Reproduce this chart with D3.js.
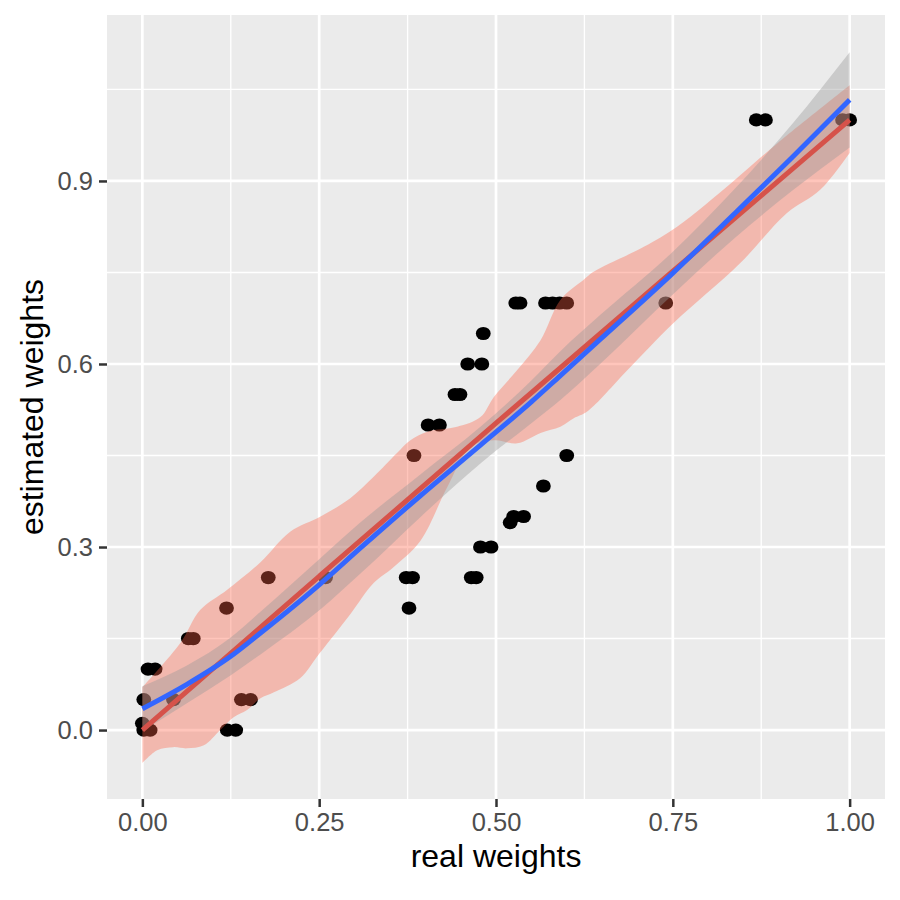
<!DOCTYPE html>
<html>
<head>
<meta charset="utf-8">
<script src="https://cdn.jsdelivr.net/npm/d3@7"></script>
<style>
  body { margin: 0; background: #fff; }
  text { font-family: "Liberation Sans", Arial, sans-serif; }
</style>
</head>
<body>
<svg width="900" height="900"></svg>
<script>
// observed points (real vs estimated weight)
const pointX = [0.002, 0.011, 0.0, 0.002, 0.044, 0.008, 0.018, 0.065, 0.072, 0.119, 0.12, 0.132,
  0.14, 0.153, 0.178, 0.259, 0.373, 0.382, 0.377, 0.384, 0.404, 0.42, 0.442, 0.449,
  0.46, 0.48, 0.482, 0.465, 0.472, 0.478, 0.493, 0.52, 0.525, 0.539, 0.567, 0.60,
  0.528, 0.534, 0.57, 0.58, 0.59, 0.60, 0.74, 0.868, 0.881, 0.99, 1.0];
const pointY = [0.0, 0.0, 0.011, 0.05, 0.05, 0.10, 0.10, 0.15, 0.15, 0.20, 0.0, 0.0,
  0.05, 0.05, 0.25, 0.25, 0.25, 0.25, 0.20, 0.45, 0.50, 0.50, 0.55, 0.55,
  0.60, 0.60, 0.65, 0.25, 0.25, 0.30, 0.30, 0.34, 0.35, 0.35, 0.40, 0.45,
  0.70, 0.70, 0.70, 0.70, 0.70, 0.70, 0.70, 1.0, 1.0, 1.0, 1.0];

// red smoother and its wavy band
const redX = [0, 0.25, 0.5, 0.75, 1];
const redY = [0, 0.252, 0.503, 0.752, 1.0];
const redUpperX = [0, 0.054, 0.082, 0.12, 0.167, 0.209, 0.252, 0.294, 0.327, 0.36, 0.379, 0.403,
  0.445, 0.478, 0.497, 0.53, 0.563, 0.591, 0.624, 0.638, 0.709, 0.756, 0.836, 0.898, 1.0];
const redUpperY = [0.07, 0.143, 0.197, 0.23, 0.275, 0.325, 0.35, 0.38, 0.415, 0.454, 0.475, 0.489,
  0.497, 0.513, 0.546, 0.59, 0.639, 0.705, 0.738, 0.751, 0.792, 0.825, 0.9, 0.962, 1.057];
const redLowerX = [0, 0.021, 0.044, 0.063, 0.087, 0.11, 0.129, 0.148, 0.167, 0.186, 0.223, 0.25,
  0.294, 0.327, 0.355, 0.393, 0.431, 0.464, 0.497, 0.53, 0.563, 0.591, 0.61, 0.629, 0.686,
  0.751, 0.845, 0.911, 0.958, 1.0];
const redLowerY = [-0.054, -0.033, -0.028, -0.03, -0.025, 0.0, 0.021, 0.033, 0.052, 0.062, 0.085, 0.125,
  0.19, 0.241, 0.267, 0.31, 0.398, 0.464, 0.475, 0.47, 0.487, 0.497, 0.511, 0.522, 0.59,
  0.667, 0.765, 0.847, 0.885, 0.946];

// blue smoother with grey band
const blueX = [0, 0.063, 0.124, 0.167, 0.252, 0.308, 0.393, 0.478, 0.55, 0.591, 0.648, 0.75, 0.836, 0.92, 1.0];
const blueY = [0.035, 0.075, 0.12, 0.159, 0.24, 0.298, 0.384, 0.467, 0.538, 0.581, 0.641, 0.749, 0.845, 0.94, 1.033];
const blueLo = [-0.002, 0.044, 0.089, 0.124, 0.198, 0.256, 0.349, 0.437, 0.503, 0.541, 0.601, 0.714, 0.805, 0.885, 0.955];
const blueHi = [0.072, 0.106, 0.151, 0.194, 0.282, 0.34, 0.419, 0.497, 0.573, 0.621, 0.681, 0.784, 0.885, 0.995, 1.111];

const xTicks = [0, 0.25, 0.5, 0.75, 1];
const xMinor = [0.125, 0.375, 0.625, 0.875];
const yTicks = [0, 0.3, 0.6, 0.9];
const yMinor = [0.15, 0.45, 0.75, 1.05];

const svg = d3.select('svg');

const panel = { left: 107, right: 885, top: 15, bottom: 799 };

const x = d3.scaleLinear()
  .domain([-0.05, 1.05])
  .range([panel.left, panel.right]);

const y = d3.scaleLinear()
  .domain([-0.113, 1.172])
  .range([panel.bottom, panel.top]);

svg.append('rect')
    .attr('x', panel.left)
    .attr('y', panel.top)
    .attr('width', panel.right - panel.left)
    .attr('height', panel.bottom - panel.top)
    .attr('fill', '#ebebeb');

// grid
const grid = svg.append('g').attr('stroke', '#fff');

grid.selectAll('.xminor').data(xMinor).join('line')
    .attr('x1', d => x(d)).attr('x2', d => x(d))
    .attr('y1', panel.top).attr('y2', panel.bottom)
    .attr('stroke-width', 1.35);

grid.selectAll('.yminor').data(yMinor).join('line')
    .attr('y1', d => y(d)).attr('y2', d => y(d))
    .attr('x1', panel.left).attr('x2', panel.right)
    .attr('stroke-width', 1.35);

grid.selectAll('.xmajor').data(xTicks).join('line')
    .attr('x1', d => x(d)).attr('x2', d => x(d))
    .attr('y1', panel.top).attr('y2', panel.bottom)
    .attr('stroke-width', 2.7);

grid.selectAll('.ymajor').data(yTicks).join('line')
    .attr('y1', d => y(d)).attr('y2', d => y(d))
    .attr('x1', panel.left).attr('x2', panel.right)
    .attr('stroke-width', 2.7);

// points sit under the bands
svg.append('g')
  .selectAll('ellipse')
  .data(pointX.map((d, i) => [d, pointY[i]]))
  .join('ellipse')
    .attr('cx', d => x(d[0]))
    .attr('cy', d => y(d[1]))
    .attr('rx', 7.4)
    .attr('ry', 6.6)
    .attr('fill', '#000');

// red band: smooth upper edge out, lower edge back
const edge = d3.line()
  .x(d => x(d[0]))
  .y(d => y(d[1]))
  .curve(d3.curveCatmullRom.alpha(0.5));

const upperPath = edge(redUpperX.map((d, i) => [d, redUpperY[i]]));
const lowerPath = edge(redLowerX.map((d, i) => [d, redLowerY[i]]).reverse());

svg.append('path')
    .attr('d', upperPath + lowerPath.replace(/^M/, 'L') + 'Z')
    .attr('fill', '#ff6347')
    .attr('fill-opacity', 0.37);

const greyBand = blueX.map((d, i) => ({ x: d, lo: blueLo[i], hi: blueHi[i] }));

svg.append('path')
    .attr('d', d3.area()
      .x(d => x(d.x))
      .y0(d => y(d.lo))
      .y1(d => y(d.hi))
      .curve(d3.curveMonotoneX)(greyBand))
    .attr('fill', '#999999')
    .attr('fill-opacity', 0.4);

const line = d3.line()
  .x(d => x(d[0]))
  .y(d => y(d[1]))
  .curve(d3.curveMonotoneX);

svg.append('path')
    .attr('d', line(redX.map((d, i) => [d, redY[i]])))
    .attr('fill', 'none')
    .attr('stroke', '#d6524a')
    .attr('stroke-width', 5);

svg.append('path')
    .attr('d', line(blueX.map((d, i) => [d, blueY[i]])))
    .attr('fill', 'none')
    .attr('stroke', '#3366ff')
    .attr('stroke-width', 5);

// axes
const xAxis = svg.append('g')
    .attr('transform', `translate(0, ${panel.bottom})`)
    .call(d3.axisBottom(x).tickValues(xTicks).tickFormat(d3.format('.2f')).tickSize(8).tickPadding(6));

const yAxis = svg.append('g')
    .attr('transform', `translate(${panel.left}, 0)`)
    .call(d3.axisLeft(y).tickValues(yTicks).tickFormat(d3.format('.1f')).tickSize(8).tickPadding(6));

[xAxis, yAxis].forEach(a => {
  a.select('.domain').remove();
  a.selectAll('.tick line').attr('stroke', '#333').attr('stroke-width', 2.5);
  a.selectAll('.tick text')
      .attr('fill', '#4d4d4d')
      .attr('font-size', 25.5)
      .attr('font-family', '"Liberation Sans", Arial, sans-serif');
});

svg.append('text')
    .attr('x', (panel.left + panel.right) / 2)
    .attr('y', 867)
    .attr('text-anchor', 'middle')
    .attr('font-size', 32)
    .text('real weights');

svg.append('text')
    .attr('transform', `translate(43, ${(panel.top + panel.bottom) / 2}) rotate(-90)`)
    .attr('text-anchor', 'middle')
    .attr('font-size', 32)
    .text('estimated weights');
</script>
</body>
</html>
